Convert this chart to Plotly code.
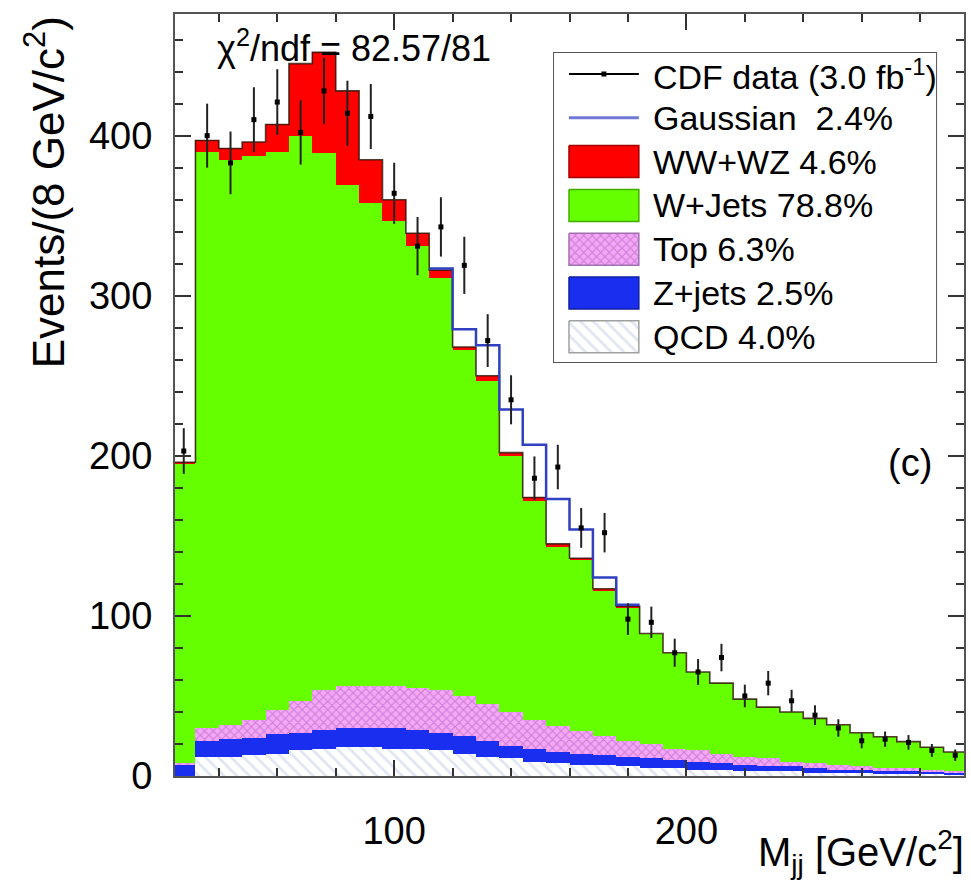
import numpy as np
import plotly.graph_objects as go

# ---- binning: 8 GeV/c^2 bins in dijet invariant mass ----
bin_lo = 24
bin_w = 8
n_bins = 34
edges = [bin_lo + bin_w * k for k in range(n_bins + 1)]
centers = [e + bin_w / 2 for e in edges[:-1]]

# ---- per-bin event counts for each process ----
qcd = [0, 12, 12, 13, 14, 16, 17, 18, 18, 17, 17, 16, 14, 12, 11, 9, 8,
       7, 7, 6, 5, 5, 4, 4, 3, 3, 3, 2, 2, 2, 1, 1, 1, 1]
zjets = [7, 10, 11, 11, 12, 11, 12, 12, 12, 13, 12, 11, 11, 10, 8, 8, 7,
         7, 6, 6, 6, 5, 5, 4, 4, 3, 3, 3, 2, 2, 2, 2, 2, 1]
top = [1, 8, 9, 11, 15, 20, 25, 26, 26, 26, 26, 27, 25, 23, 21, 18, 16,
       14, 12, 10, 9, 7, 7, 6, 5, 5, 3, 3, 3, 2, 2, 2, 1, 1]
wjets = [187, 360, 353, 352, 349, 353, 335, 313, 302, 291, 276, 257, 216,
         202, 160, 137, 112, 107, 91, 83, 69, 60, 49, 44, 36, 32, 31, 28,
         25, 21, 19.5, 16.5, 14, 12]
wwwz = [1, 7, 7, 9, 17, 45, 63, 59, 27, 13, 8, 5, 2, 3, 2, 2, 2, 1, 1, 1,
        0, 0, 0, 0, 0, 0, 0, 0, 0, 0, 0, 0, 0, 0]
gauss = [0, 0, 0, 0, 0, 0, 0, 0, 0, 0, 0, 1, 11, 19, 27, 33, 28, 18, 7, 1,
         0, 0, 0, 0, 0, 0, 0, 0, 0, 0, 0, 0, 0, 0]
data = [203, 400, 383, 410, 421, 402, 428, 414, 412, 364, 331, 343, 319,
        272, 235, 186, 193, 155, 152, 98, 96, 77, 65, 74, 50, 58, 47, 38,
        30, 22, 23, 21, 16, 13]

legend_labels = ["CDF data (3.0 fb<sup>-1</sup>)", "Gaussian  2.4%",
                 "WW+WZ 4.6%", "W+Jets 78.8%", "Top 6.3%", "Z+jets 2.5%",
                 "QCD 4.0%"]

FONT = "Liberation Sans, Arial, Helvetica, sans-serif"
C_RED = "#ff0000"
C_GREEN = "#66ff00"
C_BLUE = "#1a2ef0"
C_TOP_BG = "#f4a8f4"
C_TOP_FG = "#a850c0"
C_QCD_FG = "#c4cce4"
C_GAUSS = "#3040c0"

stack_total = np.array(qcd) + np.array(zjets) + np.array(top) + \
    np.array(wjets) + np.array(wwwz)
with_gauss = stack_total + np.array(gauss)

fig = go.Figure()

components = [
    ("QCD", qcd, dict(color="white",
                      pattern=dict(shape="\\", fgcolor=C_QCD_FG, bgcolor="white",
                                   size=9, solidity=0.3))),
    ("Z+jets", zjets, dict(color=C_BLUE)),
    ("Top", top, dict(color=C_TOP_BG,
                      pattern=dict(shape="x", fgcolor=C_TOP_FG, bgcolor=C_TOP_BG,
                                   size=6, solidity=0.35))),
    ("W+Jets", wjets, dict(color=C_GREEN)),
    ("WW+WZ", wwwz, dict(color=C_RED)),
]
for name, vals, mk in components:
    mk = dict(mk)
    mk["line"] = dict(width=0)
    fig.add_trace(go.Bar(x=centers, y=vals, width=bin_w, name=name,
                         marker=mk, showlegend=False))

# outline of the stacked histogram
fig.add_trace(go.Scatter(
    x=edges, y=list(stack_total) + [stack_total[-1]], mode="lines",
    line=dict(shape="hv", color="rgba(50,25,10,0.85)", width=1.6),
    showlegend=False, hoverinfo="skip"))

# stack plus Gaussian component, drawn where the Gaussian contributes
nz = [i for i, g in enumerate(gauss) if g > 0]
i0, i1 = nz[0], nz[-1]
gx = edges[i0:i1 + 2]
gy = list(with_gauss[i0:i1 + 1]) + [with_gauss[i1]]
fig.add_trace(go.Scatter(x=gx, y=gy, mode="lines",
                         line=dict(shape="hv", color=C_GAUSS, width=2.5),
                         showlegend=False, hoverinfo="skip"))

# data with Poisson errors
fig.add_trace(go.Scatter(
    x=centers, y=data, mode="markers",
    marker=dict(size=5, color="black", symbol="square"),
    error_y=dict(type="data", array=list(np.sqrt(data)), thickness=2,
                 width=0, color="#222222"),
    showlegend=False))

# ---- legend box drawn on its own small axes ----
LW, LH = 383.0, 309.0          # legend box size in pixels
row_y = [21 + 43.8 * i for i in range(7)]
sx0, sx1 = 15, 85
half_h = 16


def box(y):
    return ([sx0, sx1, sx1, sx0, sx0],
            [y - half_h, y - half_h, y + half_h, y + half_h, y - half_h])


# data entry: line with marker
fig.add_trace(go.Scatter(x=[sx0, (sx0 + sx1) / 2, sx1], y=[row_y[0]] * 3,
                         mode="lines", line=dict(color="black", width=2),
                         xaxis="x2", yaxis="y2", showlegend=False,
                         hoverinfo="skip"))
fig.add_trace(go.Scatter(x=[(sx0 + sx1) / 2], y=[row_y[0]], mode="markers",
                         marker=dict(size=5, color="black", symbol="square"),
                         xaxis="x2", yaxis="y2", showlegend=False,
                         hoverinfo="skip"))
# Gaussian entry
fig.add_trace(go.Scatter(x=[sx0, sx1], y=[row_y[1]] * 2, mode="lines",
                         line=dict(color="#6f78d4", width=3),
                         xaxis="x2", yaxis="y2", showlegend=False,
                         hoverinfo="skip"))
swatches = [
    (row_y[2], dict(fillcolor=C_RED), "#a00000"),
    (row_y[3], dict(fillcolor=C_GREEN), "#44aa00"),
    (row_y[4], dict(fillcolor=C_TOP_BG,
                    fillpattern=dict(shape="x", fgcolor=C_TOP_FG,
                                     bgcolor=C_TOP_BG, size=6, solidity=0.35)),
     "#a070b0"),
    (row_y[5], dict(fillcolor=C_BLUE), "#1020a0"),
    (row_y[6], dict(fillcolor="white",
                    fillpattern=dict(shape="\\", fgcolor=C_QCD_FG,
                                     bgcolor="white", size=9, solidity=0.3)),
     "#a0a0a0"),
]
for y, fill, edge in swatches:
    bx, by = box(y)
    fig.add_trace(go.Scatter(x=bx, y=by, mode="lines", fill="toself",
                             line=dict(color=edge, width=1.5),
                             xaxis="x2", yaxis="y2", showlegend=False,
                             hoverinfo="skip", **fill))

annotations = []
for lab, y in zip(legend_labels, row_y):
    annotations.append(dict(x=97, y=y, xref="x2", yref="y2", text=lab,
                            showarrow=False, xanchor="left", yanchor="middle",
                            font=dict(size=34, color="black", family=FONT)))

# plot geometry in pixels
W, H = 971, 885
ML, MR, MT, MB = 175, 5, 14, 109
PW, PH = W - ML - MR, H - MT - MB


def px_x(p):
    return (p - ML) / PW


def px_y(p):
    return (H - MB - p) / PH


leg_x0, leg_x1 = px_x(555), px_x(555 + LW)
leg_y1, leg_y0 = px_y(53), px_y(53 + LH)

annotations += [
    dict(x=px_x(215), y=px_y(46), xref="paper", yref="paper",
         text="χ<sup>2</sup>/ndf = 82.57/81", showarrow=False,
         xanchor="left", yanchor="middle",
         font=dict(size=36, color="black", family=FONT)),
    dict(x=px_x(912), y=px_y(463), xref="paper", yref="paper", text="(c)",
         showarrow=False, xanchor="center", yanchor="middle",
         font=dict(size=38, color="black", family=FONT)),
    dict(x=px_x(44), y=px_y(14), xref="paper", yref="paper",
         text="Events/(8 GeV/c<sup>2</sup>)", textangle=-90,
         showarrow=False, xanchor="center", yanchor="top",
         font=dict(size=44, color="black", family=FONT)),
    dict(x=px_x(968), y=px_y(852), xref="paper", yref="paper",
         text="M<sub>jj</sub> [GeV/c<sup>2</sup>]", showarrow=False,
         xanchor="right", yanchor="middle",
         font=dict(size=40, color="black", family=FONT)),
]

axis_common = dict(
    ticks="inside", tickwidth=2, tickcolor="#333333", ticklen=16,
    showline=True, linewidth=2, linecolor="#555555", mirror="ticks",
    showgrid=False, zeroline=False,
    tickfont=dict(size=38, color="black", family=FONT),
)

fig.update_layout(
    width=W, height=H,
    margin=dict(l=ML, r=MR, t=MT, b=MB),
    paper_bgcolor="white", plot_bgcolor="white",
    barmode="stack", bargap=0,
    showlegend=False,
    xaxis=dict(range=[25, 295], tick0=0, dtick=100,
               minor=dict(tick0=0, dtick=20, ticks="inside", ticklen=8,
                          tickwidth=1.5, tickcolor="#333333"),
               ticklabelstandoff=20, **axis_common),
    yaxis=dict(range=[0, 476], tick0=0, dtick=100,
               minor=dict(tick0=0, dtick=20, ticks="inside", ticklen=8,
                          tickwidth=1.5, tickcolor="#333333"),
               ticklabelstandoff=13, **axis_common),
    xaxis2=dict(domain=[leg_x0, leg_x1], range=[0, LW], visible=False,
                anchor="y2", fixedrange=True),
    yaxis2=dict(domain=[leg_y0, leg_y1], range=[LH, 0], visible=False,
                anchor="x2", fixedrange=True),
    shapes=[dict(type="rect", xref="paper", yref="paper",
                 x0=leg_x0, x1=leg_x1, y0=leg_y0, y1=leg_y1,
                 line=dict(color="#555555", width=2), layer="below")],
    annotations=annotations,
)

fig.write_html("out.html")
